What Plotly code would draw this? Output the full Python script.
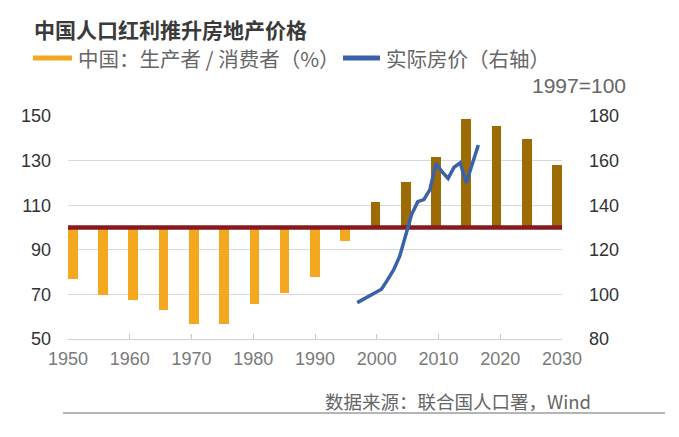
import plotly.graph_objects as go

# ---------------- data ----------------
bar_years = [1950, 1955, 1960, 1965, 1970, 1975, 1980, 1985, 1990,
             1995, 2000, 2005, 2010, 2015, 2020, 2025, 2030]
ratio_values = [76.8, 69.7, 67.3, 63.0, 56.9, 56.9, 65.8, 70.8, 77.7,
                94.0, 111.6, 120.5, 131.7, 148.5, 145.7, 139.6, 128.0]

price_years = list(range(1997, 2018))
price_values = [96.3, 97.8, 99.3, 100.8, 102.3, 106.5, 111.0, 117.0, 127.0,
                136.0, 141.6, 142.5, 147.0, 158.8, 155.0, 152.0, 157.0,
                159.0, 150.0, 158.5, 167.0]

baseline = 100
tick_years = [1950, 1960, 1970, 1980, 1990, 2000, 2010, 2020, 2030]
left_ticks = [50, 70, 90, 110, 130, 150]
right_ticks = [80, 100, 120, 140, 160, 180]

title_text = "中国人口红利推升房地产价格"
legend1 = "中国：生产者 / 消费者（%）"
legend2 = "实际房价（右轴）"
unit_text = "1997=100"
source_text = "数据来源：联合国人口署，Wind"

# ---------------- styling ----------------
ORANGE = "#F4A81F"
BROWN = "#9C6B06"
RED = "#861A1E"
BLUE = "#3A62A9"
CJK = "Noto Sans CJK SC, Noto Sans, sans-serif"
NUM = "Liberation Sans, Arial, sans-serif"

x_lo, x_hi = 1949.22, 2030.82
span0, span1 = tick_years[0], tick_years[-1]
tickvals = [x_lo + (t - span0) * (x_hi - x_lo) / (span1 - span0) for t in tick_years]

bar_colors = [ORANGE if v < baseline else BROWN for v in ratio_values]

fig = go.Figure()
fig.add_trace(go.Bar(
    x=bar_years, y=[v - baseline for v in ratio_values], base=baseline,
    marker=dict(color=bar_colors, line=dict(width=0)), width=1.6,
    xaxis="x", yaxis="y", showlegend=False, hoverinfo="skip"))
fig.add_trace(go.Scatter(
    x=[x_lo, x_hi], y=[baseline, baseline], mode="lines",
    line=dict(color=RED, width=4.5), xaxis="x", yaxis="y",
    showlegend=False, hoverinfo="skip"))
fig.add_trace(go.Scatter(
    x=price_years, y=price_values, mode="lines",
    line=dict(color=BLUE, width=3.5), xaxis="x", yaxis="y2",
    showlegend=False))

OFF = 8  # page body margin
W, H = 679 - OFF, 437 - OFF
L, T = 68 - OFF, 116 - OFF
pw, ph = 494, 223
R, B = W - L - pw, H - T - ph


def px(x):
    return (x - OFF - L) / pw


def py(y):
    return (T + ph - (y - OFF)) / ph


fig.update_layout(
    width=W, height=H,
    margin=dict(l=L, r=R, t=T, b=B, pad=0),
    paper_bgcolor="white", plot_bgcolor="white",
    bargap=0,
    xaxis=dict(range=[x_lo, x_hi], tickvals=tickvals, ticktext=[str(t) for t in tick_years],
               showgrid=False, zeroline=False, showline=True, linecolor="#d0d0d0", linewidth=1,
               ticks="inside", ticklen=5, tickcolor="#c8c8c8",
               tickfont=dict(family=NUM, size=18, color="#7a7a7a"),
               ticklabelstandoff=3, fixedrange=True),
    yaxis=dict(range=[50, 150], tickvals=left_ticks, showgrid=True, gridcolor="#d9d9d9",
               gridwidth=1, zeroline=False, showline=False, ticks="",
               tickfont=dict(family=NUM, size=18, color="#333333"),
               ticklabelstandoff=16),
    yaxis2=dict(range=[80, 180], tickvals=right_ticks, overlaying="y", side="right",
                showgrid=False, zeroline=False, showline=False, ticks="",
                tickfont=dict(family=NUM, size=18, color="#333333"),
                ticklabelstandoff=26),
)

annotations = [
    dict(text=f"<b>{title_text}</b>", x=px(32), y=py(29), xanchor="left", yanchor="middle",
         font=dict(family=CJK, size=21, color="#3a3a3a")),
    dict(text=legend1, x=px(76), y=py(58), xanchor="left", yanchor="middle",
         font=dict(family=CJK, size=20.5, color="#666666")),
    dict(text=legend2, x=px(384), y=py(58), xanchor="left", yanchor="middle",
         font=dict(family=CJK, size=20.5, color="#666666")),
    dict(text=unit_text, x=px(628), y=py(85), xanchor="right", yanchor="middle",
         font=dict(family=NUM, size=21, color="#666666")),
    dict(text=source_text, x=px(593), y=py(401), xanchor="right", yanchor="middle",
         font=dict(family=CJK, size=18.5, color="#666666")),
]
for a in annotations:
    a.update(xref="paper", yref="paper", showarrow=False)
fig.update_layout(annotations=annotations)

shapes = [
    dict(type="line", x0=px(33), x1=px(72), y0=py(58), y1=py(58), line=dict(color=ORANGE, width=5)),
    dict(type="line", x0=px(343), x1=px(380), y0=py(58), y1=py(58), line=dict(color=BLUE, width=5)),
    dict(type="line", x0=px(63), x1=px(665), y0=py(413), y1=py(413), line=dict(color="#b5b5b5", width=2)),
]
for s in shapes:
    s.update(xref="paper", yref="paper")
fig.update_layout(shapes=shapes)

fig.write_html("out.html")
